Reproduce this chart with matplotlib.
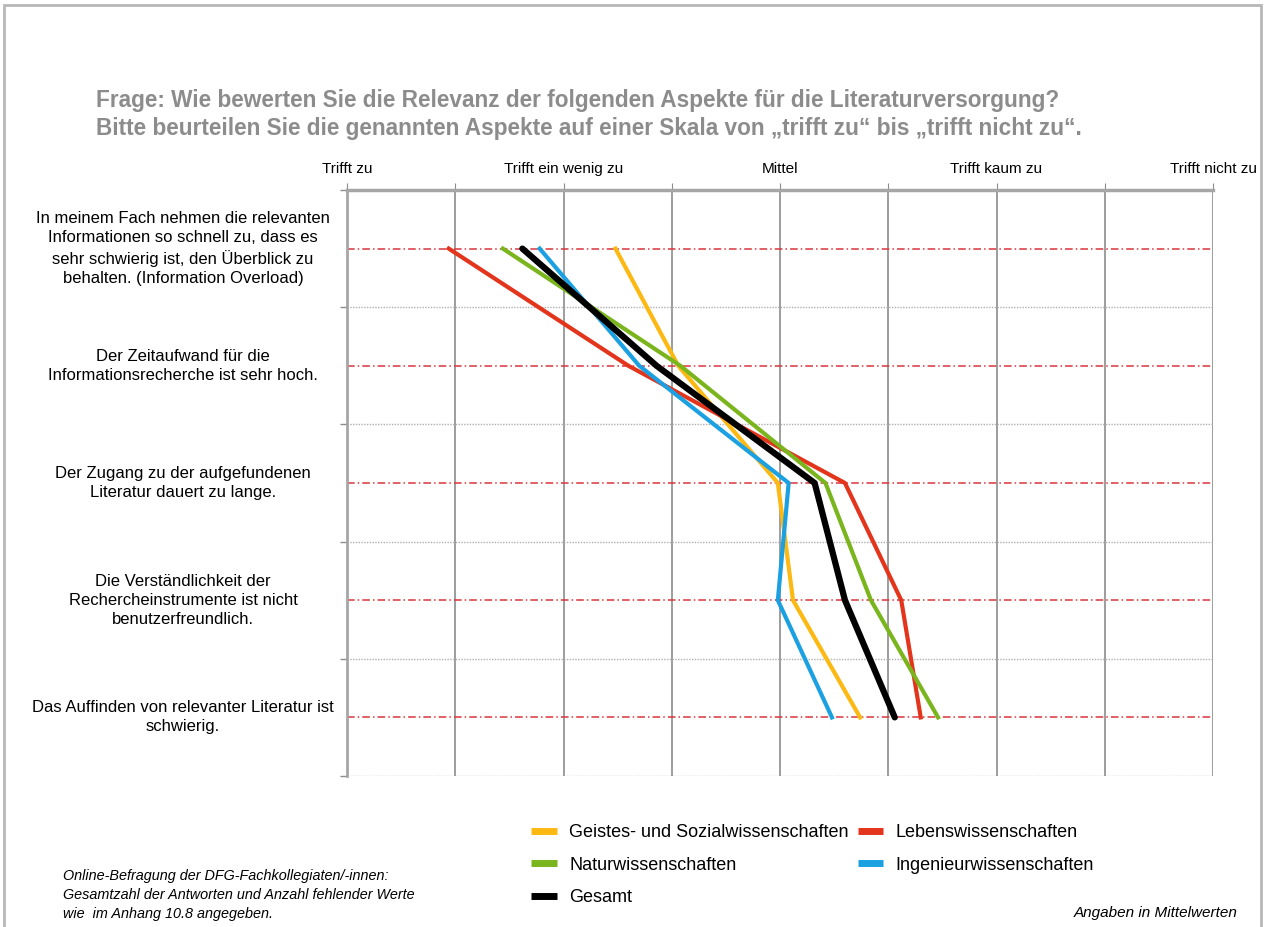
import matplotlib.pyplot as plt
from matplotlib.patches import Rectangle
from matplotlib.transforms import blended_transform_factory

plt.rcParams['font.family'] = ['Liberation Sans', 'DejaVu Sans']

# Aussagen (von oben nach unten)
aspekte = [
    "In meinem Fach nehmen die relevanten\nInformationen so schnell zu, dass es\nsehr schwierig ist, den Überblick zu\nbehalten. (Information Overload)",
    "Der Zeitaufwand für die\nInformationsrecherche ist sehr hoch.",
    "Der Zugang zu der aufgefundenen\nLiteratur dauert zu lange.",
    "Die Verständlichkeit der\nRechercheinstrumente ist nicht\nbenutzerfreundlich.",
    "Das Auffinden von relevanter Literatur ist\nschwierig.",
]
skala = ["Trifft zu", "Trifft ein wenig zu", "Mittel", "Trifft kaum zu", "Trifft nicht zu"]

# Mittelwerte je Wissenschaftsbereich (1 = trifft zu ... 5 = trifft nicht zu)
geistes = [2.24, 2.53, 2.99, 3.06, 3.37]
leben = [1.47, 2.30, 3.30, 3.56, 3.65]
natur = [1.72, 2.54, 3.21, 3.42, 3.73]
ingenieur = [1.89, 2.35, 3.04, 2.99, 3.24]
gesamt = [1.81, 2.43, 3.16, 3.30, 3.53]

pos = [1, 2, 3, 4, 5]

fig = plt.figure(figsize=(12.65, 9.27), dpi=100)
ax = fig.add_axes([347/1265, 1-776/927, 866/1265, 586/927])

# Rahmen um die ganze Seite
fig.patches.append(Rectangle((0.003, -0.1), 0.994, 1.1 - 5/927, transform=fig.transFigure,
                             fill=False, edgecolor='#b8b8b8', linewidth=2))

ax.set_xlim(1, 5)
ax.set_ylim(5.5, 0.5)

# Raster
for x in [1.5, 2, 2.5, 3, 3.5, 4, 4.5, 5]:
    ax.axvline(x, color='#8c8c8c', linewidth=1.2, zorder=1)
for y in [1.5, 2.5, 3.5, 4.5, 5.5]:
    ax.axhline(y, color='#b0b0b0', linewidth=1, linestyle=(0, (1, 1)), zorder=1)
for y in pos:
    ax.axhline(y, color='#d9363e', linewidth=1.1, linestyle=(0, (5, 2, 1, 2)), zorder=1)

l1, = ax.plot(geistes, pos, color='#fdb913', linewidth=3, zorder=3)
l2, = ax.plot(leben, pos, color='#e3341c', linewidth=3, zorder=3)
l3, = ax.plot(natur, pos, color='#7ab51d', linewidth=3, zorder=3)
l4, = ax.plot(ingenieur, pos, color='#1ba1e2', linewidth=3, zorder=3)
l5, = ax.plot(gesamt, pos, color='black', linewidth=4.5, solid_capstyle='round', zorder=4)

# Achsen
ax.xaxis.tick_top()
ax.set_xticks([1, 1.5, 2, 2.5, 3, 3.5, 4, 4.5, 5])
ax.set_xticklabels([skala[0], "", skala[1], "", skala[2], "", skala[3], "", skala[4]], fontsize=11)
ax.tick_params(axis='x', length=5, color='#8c8c8c', pad=7)
for lab in ax.get_xticklabels():
    lab.set_verticalalignment('baseline')
ax.set_yticks([0.5, 1.5, 2.5, 3.5, 4.5, 5.5])
ax.set_yticklabels([])
ax.tick_params(axis='y', length=5, color='#8c8c8c', width=1)
for s in ['right', 'bottom']:
    ax.spines[s].set_visible(False)
ax.spines['top'].set_color('#a6a6a6')
ax.spines['top'].set_linewidth(2.5)
ax.spines['left'].set_color('#a6a6a6')
ax.spines['left'].set_linewidth(2)

tr = blended_transform_factory(fig.transFigure, ax.transData)
for y, t in zip(pos, aspekte):
    fig.text(183/1265, y, t, transform=tr, ha='center', va='center', fontsize=12,
             linespacing=1.35)

# Titel
fig.text(96/1265, 1-101/927, "Frage: Wie bewerten Sie die Relevanz der folgenden Aspekte für die Literaturversorgung?",
         fontsize=16.3, fontweight='bold', color='#8c8c8c', va='center')
fig.text(96/1265, 1-128/927, "Bitte beurteilen Sie die genannten Aspekte auf einer Skala von „trifft zu“ bis „trifft nicht zu“.",
         fontsize=16.3, fontweight='bold', color='#8c8c8c', va='center')

# Legende
fig.legend([l1, l3, l5, l2, l4],
           ["Geistes- und Sozialwissenschaften", "Naturwissenschaften", "Gesamt",
            "Lebenswissenschaften", "Ingenieurwissenschaften"],
           ncol=2, loc='upper left', bbox_to_anchor=(515/1265, 1-808/927), frameon=False,
           fontsize=13, handlelength=1.4, handletextpad=0.7, columnspacing=0.5,
           labelspacing=0.85)
for h in fig.legends[0].legend_handles:
    h.set_linewidth(5)
    h.set_solid_capstyle('butt')

fig.text(63/1265, 1-895/927,
         "Online-Befragung der DFG-Fachkollegiaten/-innen:\nGesamtzahl der Antworten und Anzahl fehlender Werte\nwie  im Anhang 10.8 angegeben.",
         fontsize=10.4, style='italic', va='center', linespacing=1.45)
fig.text(1238/1265, 1-913/927, "Angaben in Mittelwerten", fontsize=11, style='italic',
         ha='right', va='center')

fig.savefig('out.png', dpi=100)
